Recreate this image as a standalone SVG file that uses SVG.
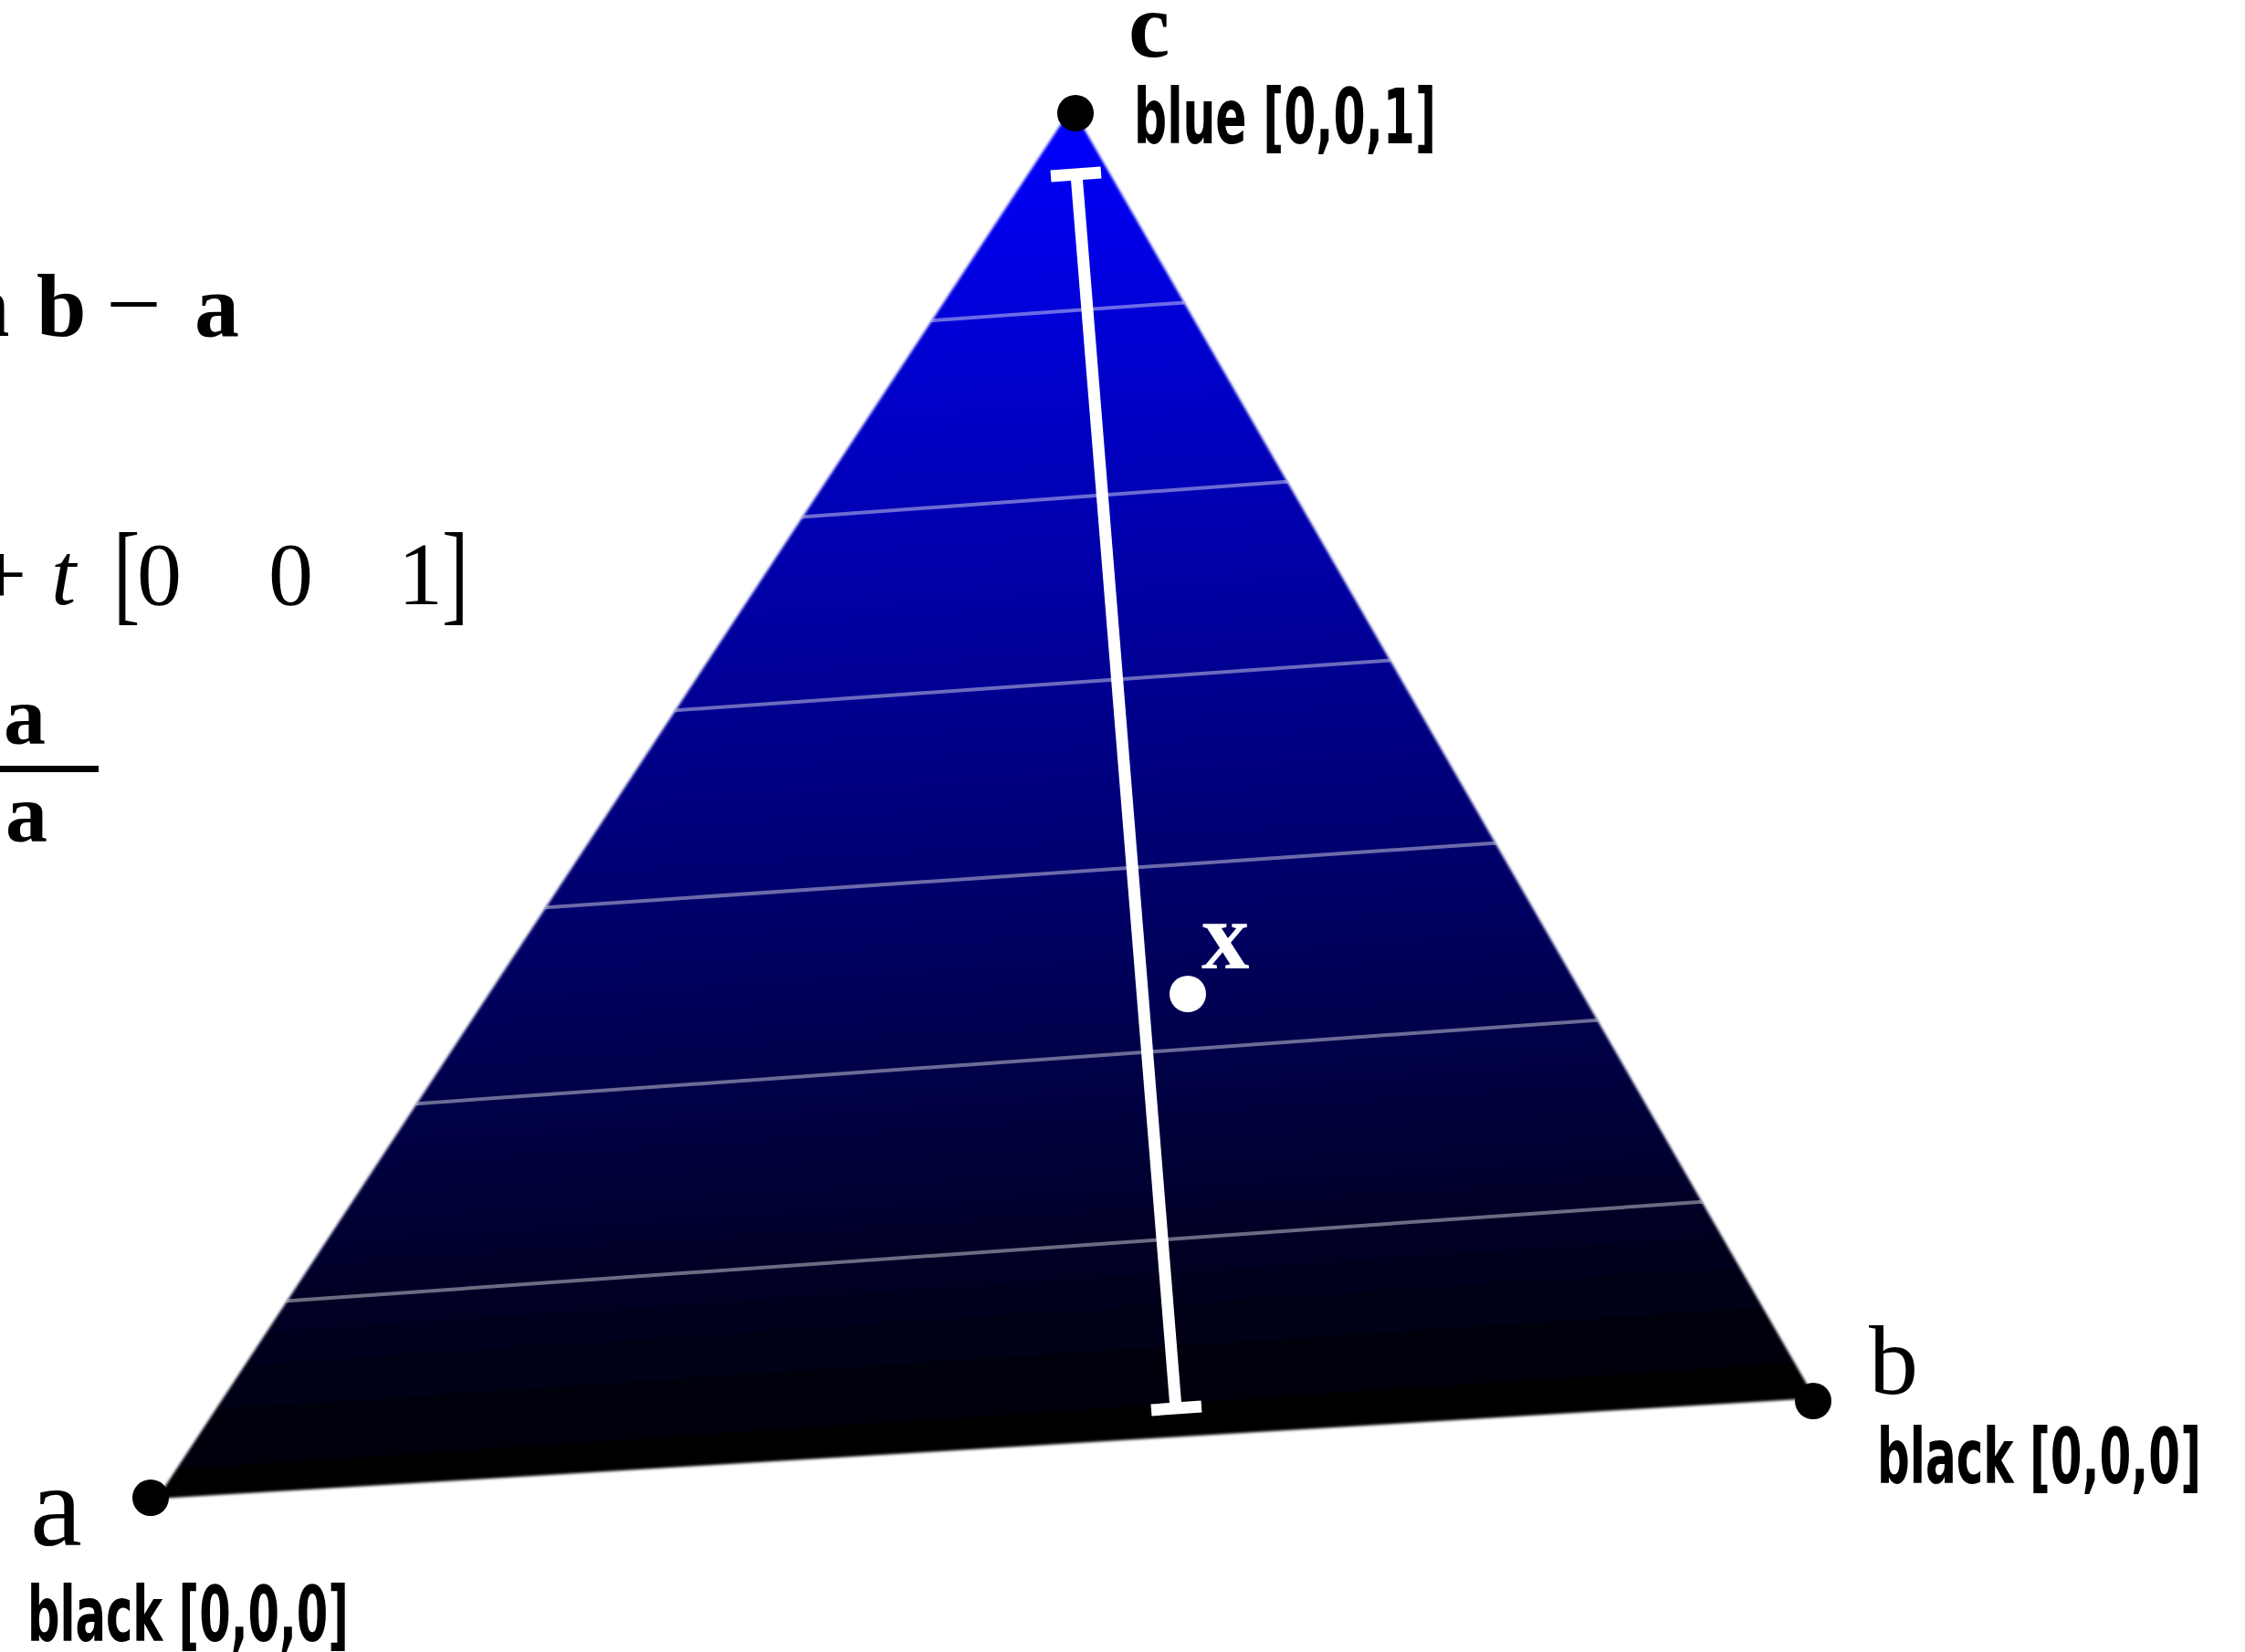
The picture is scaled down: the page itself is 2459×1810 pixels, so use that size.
<svg xmlns="http://www.w3.org/2000/svg" width="2459" height="1810" viewBox="0 0 2459 1810">
  <style>
    .serif { font-family: "Liberation Serif", "DejaVu Serif", serif; fill: #000; }
    .bold { font-weight: bold; }
    .ital { font-style: italic; }
    .lbl { font-family: "Liberation Sans Narrow", "DejaVu Sans Condensed", "Liberation Sans", sans-serif; font-weight: bold; font-stretch: condensed; font-size: 83px; fill: #000; }
    .iso { stroke: #ffffff; stroke-opacity: 0.42; stroke-width: 4; fill: none; }
    .bar { stroke: #ffffff; stroke-width: 13; fill: none; stroke-linecap: butt; }
    .dot { fill: #000; }
  </style>
  <defs>
    <linearGradient id="grad" gradientUnits="userSpaceOnUse" x1="1174" y1="118" x2="1270" y2="1575">
      <stop offset="0" stop-color="#0000ff"/>
      <stop offset="1" stop-color="#000000"/>
    </linearGradient>
    <filter id="soft" x="-5%" y="-5%" width="110%" height="110%">
      <feGaussianBlur stdDeviation="1.6"/>
    </filter>
    <clipPath id="triclip">
      <polygon points="172,1642 1988,1532 1174,118"/>
    </clipPath>
  </defs>

  <rect width="2459" height="1810" fill="#ffffff"/>

  <!-- formulas (partially cut at left edge) -->
  <g id="formulas">
    <text class="serif bold" x="-44" y="368" font-size="98">n</text>
    <text class="serif bold" x="40" y="368" font-size="98">b</text>
    <text class="serif" font-size="98" transform="translate(116,366) scale(1.1,1)">−</text>
    <text class="serif bold" x="213" y="368" font-size="98">a</text>

    <text class="serif" x="-26" y="662" font-size="98">+</text>
    <text class="serif ital" x="56" y="662" font-size="98">t</text>
    <text class="serif" font-size="88" transform="translate(124,669) scale(1,1.4)">[</text>
    <text class="serif" x="150" y="662" font-size="98">0</text>
    <text class="serif" x="294" y="662" font-size="98">0</text>
    <text class="serif" x="436" y="662" font-size="98">1</text>
    <text class="serif" font-size="88" transform="translate(484,669) scale(1,1.4)">]</text>

    <text class="serif bold" x="4" y="815" font-size="92">a</text>
    <rect x="0" y="839" width="108" height="7" fill="#000"/>
    <text class="serif bold" x="6" y="922" font-size="92">a</text>
  </g>

  <!-- shaded triangle -->
  <g id="triangle">
    <polygon points="172,1642 1988,1532 1174,118" fill="url(#grad)" filter="url(#soft)"/>
  </g>

  <!-- iso lines -->
  <g id="isolines" clip-path="url(#triclip)">
    <line class="iso" x1="1010" y1="352" x2="1305" y2="331"/>
    <line class="iso" x1="870" y1="567" x2="1420" y2="527"/>
    <line class="iso" x1="730" y1="779" x2="1530" y2="723"/>
    <line class="iso" x1="587" y1="995" x2="1648" y2="923"/>
    <line class="iso" x1="446" y1="1210" x2="1760" y2="1117"/>
    <line class="iso" x1="305" y1="1426" x2="1875" y2="1316"/>
  </g>

  <!-- connectors: the measuring bar -->
  <g id="connectors">
    <line class="bar" x1="1179" y1="191" x2="1288" y2="1543"/>
    <line class="bar" x1="1151" y1="193" x2="1206" y2="189" stroke-width="14"/>
    <line class="bar" x1="1261" y1="1545" x2="1316" y2="1541" stroke-width="14"/>
  </g>

  <g id="node-a">
    <circle class="dot" cx="165" cy="1641" r="20"/>
    <text class="serif" x="33" y="1693" font-size="128">a</text>
    <text class="lbl" x="30" y="1798" textLength="352" lengthAdjust="spacingAndGlyphs">black [0,0,0]</text>
  </g>

  <g id="node-b">
    <circle class="dot" cx="1986" cy="1535" r="20"/>
    <text class="serif" x="2047" y="1527" font-size="108">b</text>
    <text class="lbl" x="2056" y="1625" textLength="355" lengthAdjust="spacingAndGlyphs">black [0,0,0]</text>
  </g>

  <g id="node-c">
    <circle class="dot" cx="1178" cy="124" r="20"/>
    <text class="serif bold" x="1236" y="62" font-size="102">c</text>
    <text class="lbl" x="1242" y="157" textLength="331" lengthAdjust="spacingAndGlyphs">blue [0,0,1]</text>
  </g>

  <g id="node-x">
    <circle cx="1301" cy="1089" r="20" fill="#ffffff"/>
    <text class="serif bold" x="1316" y="1061" font-size="105" style="fill:#ffffff">x</text>
  </g>
</svg>
